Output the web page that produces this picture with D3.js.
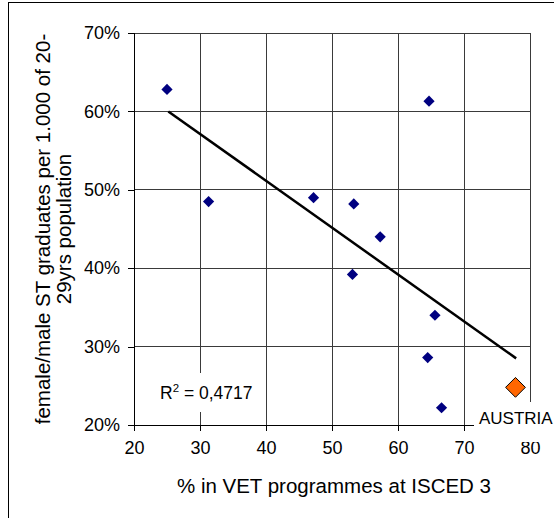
<!DOCTYPE html>
<html>
<head>
<meta charset="utf-8">
<script src="https://cdn.jsdelivr.net/npm/d3@7"></script>
<style>
  html, body { margin: 0; padding: 0; background: #fff; }
  svg { display: block; font-family: "Liberation Sans", Arial, sans-serif; }
</style>
</head>
<body>
<script>
// ---- data ----
const xValues = [25.0, 31.3, 47.2, 53.3, 57.3, 53.1, 64.7, 65.6, 64.5, 66.6];
const yValues = [62.8, 48.5, 49.0, 48.2, 44.0, 39.2, 61.3, 34.0, 28.6, 22.2];
const highlightLabel = "AUSTRIA";
const highlightX = [77.8];
const highlightY = [24.8];
const trendX = [25.2, 77.9];
const trendY = [60.0, 28.5];
const rSquaredText = "0,4717";
const xTicks = [20, 30, 40, 50, 60, 70, 80];
const yTicks = [20, 30, 40, 50, 60, 70];
const xTitle = "% in VET programmes at ISCED 3";
const yTitleLines = ["female/male ST graduates per 1.000 of 20-", "29yrs population"];

// ---- layout ----
const W = 554, H = 518;
const plot = { left: 134, right: 530, top: 33, bottom: 425 };

const svg = d3.select("body").append("svg").attr("width", W).attr("height", H);
svg.append("rect").attr("width", W).attr("height", H).attr("fill", "#fff");
// outer frame
svg.append("rect").attr("x", 8.5).attr("y", 2.5).attr("width", 700).attr("height", 700)
  .attr("fill", "none").attr("stroke", "#000").attr("stroke-width", 1);

const x = d3.scaleLinear().domain([20, 80]).range([plot.left, plot.right]);
const y = d3.scaleLinear().domain([20, 70]).range([plot.bottom, plot.top]);

// gridlines
const grid = svg.append("g").attr("stroke", "#3a3a3a").attr("stroke-width", 1).attr("shape-rendering", "crispEdges");
grid.selectAll("line.v").data(xTicks.slice(1)).join("line")
  .attr("x1", d => x(d)).attr("x2", d => x(d)).attr("y1", plot.top).attr("y2", plot.bottom);
grid.selectAll("line.h").data(yTicks.slice(1)).join("line")
  .attr("x1", plot.left).attr("x2", plot.right).attr("y1", d => y(d)).attr("y2", d => y(d));

// axes
const xAxis = d3.axisBottom(x).tickValues(xTicks).tickSize(6).tickPadding(8).tickFormat(d3.format("d"));
const yAxis = d3.axisLeft(y).tickValues(yTicks).tickSize(6).tickPadding(8).tickFormat(d => d + "%");
const gx = svg.append("g").attr("transform", `translate(0,${plot.bottom})`).call(xAxis);
const gy = svg.append("g").attr("transform", `translate(${plot.left},0)`).call(yAxis);
[gx, gy].forEach(g => {
  g.select(".domain").attr("stroke", "#000").attr("shape-rendering", "crispEdges");
  g.selectAll(".tick line").attr("stroke", "#000").attr("shape-rendering", "crispEdges");
  g.selectAll(".tick text").attr("fill", "#000").attr("font-size", 18)
    .attr("font-family", "'Liberation Sans', Arial, sans-serif");
});
gx.selectAll(".tick text").attr("dy", "0.85em");

// trend line
svg.append("line")
  .attr("x1", x(trendX[0])).attr("y1", y(trendY[0]))
  .attr("x2", x(trendX[1])).attr("y2", y(trendY[1]))
  .attr("stroke", "#000").attr("stroke-width", 2.5);

// R² label with white background
const rG = svg.append("g");
rG.append("rect").attr("x", 153).attr("y", 373).attr("width", 105).attr("height", 39).attr("fill", "#fff");
const rText = rG.append("text").attr("x", 160).attr("y", 399).attr("font-size", 17.5).attr("fill", "#000");
rText.append("tspan").text("R");
rText.append("tspan").attr("font-size", 11.5).attr("dy", -7).text("2");
rText.append("tspan").attr("dy", 7).text(" = " + rSquaredText);

// scatter points
const diamond = d3.symbol().type(d3.symbolDiamond2);
svg.append("g").selectAll("path").data(xValues.map((v, i) => [v, yValues[i]])).join("path")
  .attr("transform", d => `translate(${x(d[0])},${y(d[1])})`)
  .attr("d", diamond.size(80)())
  .attr("fill", "#000080");

// highlighted AUSTRIA label box
const hG = svg.append("g");
hG.append("rect").attr("x", 474).attr("y", 402).attr("width", 90).attr("height", 40).attr("fill", "#fff");
hG.append("text").attr("x", 479).attr("y", 424).attr("font-size", 17).attr("fill", "#000").text(highlightLabel);

svg.append("g").selectAll("path").data(highlightX.map((v, i) => [v, highlightY[i]])).join("path")
  .attr("transform", d => `translate(${x(d[0])},${y(d[1])})`)
  .attr("d", diamond.size(250)())
  .attr("fill", "#FF6600").attr("stroke", "#000").attr("stroke-width", 1);

// axis titles
svg.append("text").attr("x", 334).attr("y", 493).attr("text-anchor", "middle")
  .attr("font-size", 20.5).attr("fill", "#000").text(xTitle);
const yt = svg.append("text").attr("transform", `translate(50,${(plot.top + plot.bottom) / 2}) rotate(-90)`)
  .attr("text-anchor", "middle").attr("font-size", 20.5).attr("fill", "#000");
yTitleLines.forEach((t, i) => yt.append("tspan").attr("x", 0).attr("y", i * 21).text(t));
</script>
</body>
</html>
